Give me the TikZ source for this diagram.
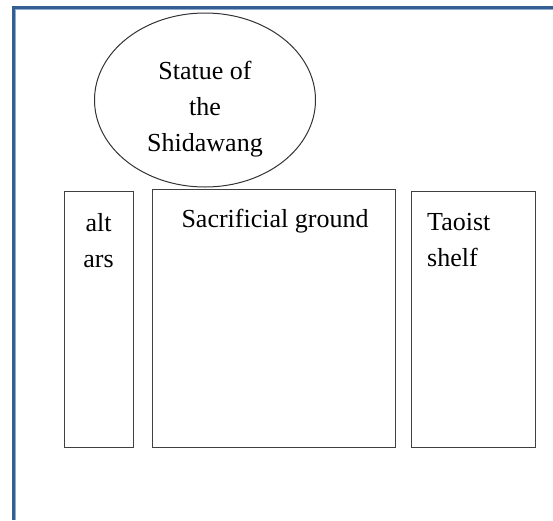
\documentclass[tikz,border=0pt]{standalone}
\usepackage{fontspec}
\setmainfont{Liberation Serif}
\usetikzlibrary{shapes.geometric}
\definecolor{frameblue}{RGB}{54,95,145}
\definecolor{framelight}{RGB}{140,170,210}
\tikzset{
  box/.style={draw=black!75, line width=1pt, inner sep=0pt, anchor=north west},
  lbl/.style={anchor=base, inner sep=0pt, font=\fontsize{26}{36}\selectfont},
}
\begin{document}
\begin{tikzpicture}[x=1pt,y=-1pt]
\useasboundingbox (0,0) rectangle (553,520);
% blue frame (cropped at right and bottom)
\draw[framelight, line width=4pt] (13.5,520) -- (13.5,7.5) -- (553,7.5);
\draw[frameblue, line width=3pt] (13.2,520) -- (13.2,7.2) -- (553,7.2);
% statue
\node[draw=black!80, line width=1pt, ellipse, inner sep=0pt,
      minimum width=221pt, minimum height=174pt] (statue) at (205,100) {};
\node[lbl] (statuetext) at (205,79)
  {\begin{tabular}[t]{@{}c@{}}Statue of\\the\\Shidawang\end{tabular}};
% boxes
\node[box, minimum width=69pt, minimum height=256pt] (altars) at (64,191) {};
\node[box, minimum width=243pt, minimum height=258pt] (ground) at (152,189) {};
\node[box, minimum width=124pt, minimum height=256pt] (shelf) at (411,191) {};
% labels
\node[lbl] (altarstext) at (98.5,231)
  {\begin{tabular}[t]{@{}c@{}}alt\\ars\end{tabular}};
\node[lbl] (groundtext) at (275,227) {Sacrificial ground};
\node[lbl, anchor=base west] (shelftext) at (427,230)
  {\begin{tabular}[t]{@{}l@{}}Taoist\\shelf\end{tabular}};
\end{tikzpicture}
\end{document}
